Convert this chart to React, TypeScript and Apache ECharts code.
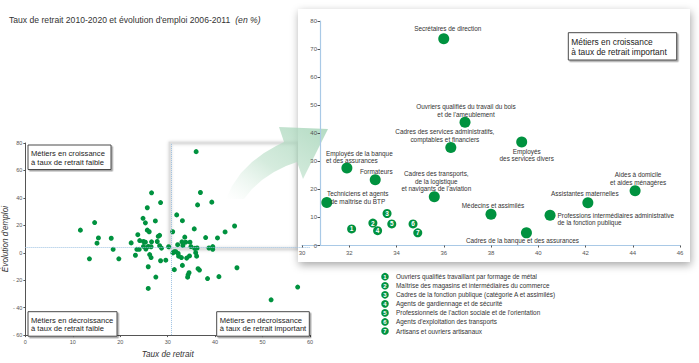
import React, { useEffect, useRef } from 'react';
import * as echarts from 'echarts';

// ---------- DATA ----------
const TITLE_MAIN = "Taux de retrait 2010-2020 et évolution d'emploi 2006-2011";
const TITLE_UNIT = '(en %)';

const X_NAME = 'Taux de retrait';
const Y_NAME = "Évolution d'emploi";

const AVG_RETRAIT = 30.7;
const AVG_EVOLUTION = 3.9;

// Named occupations (shown in the zoomed panel)
const namedLabels = [
  'Secrétaires de direction',
  "Ouvriers qualifiés du travail du bois\net de l'ameublement",
  'Cadres des services administratifs,\ncomptables et financiers',
  'Employés\ndes services divers',
  'Employés de la banque\net des assurances',
  'Formateurs',
  'Techniciens et agents\nde maîtrise du BTP',
  "Cadres des transports,\nde la logistique\net navigants de l'aviation",
  'Médecins et assimilés',
  'Cadres de la banque et des assurances',
  'Professions intermédiaires administrative\nde la fonction publique',
  'Assistantes maternelles',
  'Aides à domicile\net aides ménagères',
];
const namedRetrait = [36.0, 36.9, 36.3, 39.3, 31.9, 33.1, 31.05, 35.6, 38.0, 39.5, 40.5, 42.1, 44.1];
const namedEvolution = [73.7, 43.9, 34.9, 36.9, 27.6, 23.4, 15.3, 17.4, 11.1, 4.5, 10.8, 15.2, 19.5];

// Numbered occupations (legend)
const numberedLabels = [
  'Ouvriers qualifiés travaillant par formage de métal',
  'Maîtrise des magasins et intermédiaires du commerce',
  'Cadres de la fonction publique (catégorie A et assimilés)',
  'Agents de gardiennage et de sécurité',
  "Professionnels de l'action sociale et de l'orientation",
  "Agents d'exploitation des transports",
  'Artisans et ouvriers artisanaux',
];
const numberedRetrait = [32.1, 33.0, 33.6, 33.2, 33.8, 34.7, 34.9];
const numberedEvolution = [5.9, 8.0, 11.4, 5.3, 7.7, 7.7, 4.5];

// Other occupations (left chart only)
const otherRetrait = [
  11.6, 14.6, 13.5, 15.4, 15.1, 18.1, 18.5, 19.7, 22.3, 23.2, 23.7, 23.5, 24.0, 24.1, 24.8, 24.9,
  24.9, 25.3, 25.3, 25.4, 25.7, 25.7, 26.1, 25.9, 25.9, 25.9, 26.2, 26.5, 26.6, 26.6, 26.5, 27.4,
  27.5, 27.8, 28.0, 28.3, 28.5, 28.3, 28.7, 28.5, 29.6, 30.2, 31.1, 31.4, 31.7, 32.2, 31.4, 32.3,
  32.9, 33.1, 34.0, 34.2, 34.3, 34.6, 34.5, 35.7, 35.9, 36.1, 36.2, 36.4, 36.7, 38.4, 38.7, 39.5,
  40.8, 44.6, 51.8, 57.4,
];
const otherEvolution = [
  16.5, 22.0, -4.4, 10.8, 7.0, 10.6, 2.5, -4.4, 7.2, -1.8, 13.2, 2.5, 2.5, 8.9, 25.1, 8.2,
  4.6, 7.7, 21.8, 2.7, 32.8, 16.5, 15.3, 4.6, -10.2, -26.0, -1.3, -3.5, 43.7, 8.0, 4.4, 23.2,
  -17.7, 8.2, 12.0, 12.7, 36.6, 5.1, 3.4, -5.8, -5.4, 4.4, -0.1, 0.8, 0.8, -0.5, -12.3, -2.5,
  -3.5, -9.2, -3.9, -17.8, -16.1, -2.3, -14.5, 3.2, 0.1, -2.5, 3.5, -11.6, -12.6, -18.8, 3.5, 2.5,
  -17.4, -10.9, -34.3, -25.0,
];

const quadrantLabels = [
  ['Métiers en croissance', 'à taux de retrait faible'],
  ['Métiers en décroissance', 'à taux de retrait faible'],
  ['Métiers en décroissance', 'à taux de retrait important'],
  ['Métiers en croissance', 'à taux de retrait important'],
];

// ---------- LAYOUT / STYLE ----------
const GREEN = '#00923f';
const FONT = "'Liberation Sans Narrow', 'Liberation Sans', Arial, sans-serif";
const FONT_REG = "'Liberation Sans', Arial, sans-serif";

// label offsets (px) relative to each named point, and alignment
const namedLabelLayout: { off: [number, number]; align?: string }[] = [
  { off: [4, -10] },
  { off: [1, -12] },
  { off: [-6, -12] },
  { off: [5, 13] },
  { off: [-21, -11], align: 'left' },
  { off: [1, -8.5] },
  { off: [31, -5] },
  { off: [2, -15.5] },
  { off: [2, -8.5] },
  { off: [-4, 7.5] },
  { off: [7.5, 4], align: 'left' },
  { off: [-3, -9] },
  { off: [3, -12] },
];

const quadrantBoxes = [
  { x: 28, y: 145, w: 83, h: 24.5, fs: 7.6 },
  { x: 28, y: 311.7, w: 89, h: 24.5, fs: 7.6 },
  { x: 216.7, y: 311.7, w: 92.6, h: 24.5, fs: 7.6 },
  { x: 568.3, y: 32.7, w: 108.4, h: 27.3, fs: 8.4 },
];

const arrowPoints: [number, number][] = [
  [226, 199], [232, 186], [241, 173], [252, 162], [264, 153], [276, 146], [284, 142],
  [279, 127], [328, 129], [303, 179],
  [297, 162], [286, 166], [274, 172], [262, 180], [252, 189], [244, 199],
];

export default function App() {
  const ref = useRef<HTMLDivElement>(null);

  useEffect(() => {
    if (!ref.current) return;
    const chart = echarts.init(ref.current, undefined, { renderer: 'svg' });

    const leftData: number[][] = [];
    namedRetrait.forEach((x, i) => leftData.push([x, namedEvolution[i]]));
    numberedRetrait.forEach((x, i) => leftData.push([x, numberedEvolution[i]]));
    otherRetrait.forEach((x, i) => leftData.push([x, otherEvolution[i]]));

    const namedData = namedLabels.map((n, i) => ({
      name: n,
      value: [namedRetrait[i], namedEvolution[i]],
      label: {
        offset: namedLabelLayout[i].off,
        align: namedLabelLayout[i].align || 'center',
      },
    }));

    const numberedData = numberedLabels.map((n, i) => ({
      name: String(i + 1),
      value: [numberedRetrait[i], numberedEvolution[i]],
    }));

    const graphics: any[] = [];

    // zoom frame in the left chart
    graphics.push({
      type: 'rect',
      z: 1,
      shape: { x: 170, y: 143, width: 128, height: 106 },
      style: { fill: 'none', stroke: '#dedede', lineWidth: 3, shadowBlur: 3, shadowColor: 'rgba(0,0,0,0.15)' },
    });

    // quadrant boxes
    quadrantBoxes.forEach((b, i) => {
      graphics.push({
        type: 'rect',
        z: i === 3 ? 9 : 3,
        shape: { x: b.x, y: b.y, width: b.w, height: b.h },
        style: {
          fill: '#fff', stroke: '#4a4a4a', lineWidth: 1,
          shadowColor: 'rgba(0,0,0,0.35)', shadowOffsetX: 1.5, shadowOffsetY: 1.5, shadowBlur: 1,
        },
      });
      graphics.push({
        type: 'text',
        z: i === 3 ? 9 : 3,
        x: b.x + 3,
        y: b.y + b.h / 2 + 0.5,
        style: {
          text: quadrantLabels[i].join('\n'),
          fontSize: b.fs, fontFamily: FONT, fill: '#222',
          lineHeight: b.fs + 1.3, align: 'left', verticalAlign: 'middle',
        },
      });
    });

    // inset panel
    graphics.push({
      type: 'rect',
      z: 5,
      shape: { x: 298, y: 9, width: 392, height: 253 },
      style: { fill: '#fff', shadowBlur: 9, shadowColor: 'rgba(0,0,0,0.35)', shadowOffsetX: 1, shadowOffsetY: 3 },
    });

    // arrow
    graphics.push({
      type: 'polygon',
      z: 6,
      shape: { points: arrowPoints },
      style: {
        fill: new echarts.graphic.LinearGradient(0, 1, 1, 0, [
          { offset: 0, color: 'rgba(215,236,223,0)' },
          { offset: 0.45, color: 'rgba(185,222,199,0.6)' },
          { offset: 1, color: 'rgba(160,210,180,0.8)' },
        ]),
      },
    });

    // legend of numbered points
    numberedLabels.forEach((t, i) => {
      const cy = 276.7 + i * 9.05;
      graphics.push({
        type: 'circle', z: 9,
        shape: { cx: 385, cy, r: 3.8 },
        style: { fill: GREEN },
      });
      graphics.push({
        type: 'text', z: 10, x: 385, y: cy + 0.3,
        style: { text: String(i + 1), fontSize: 6, fontWeight: 'bold', fontFamily: FONT_REG, fill: '#fff', align: 'center', verticalAlign: 'middle' },
      });
      graphics.push({
        type: 'text', z: 9, x: 396, y: cy,
        style: { text: t, fontSize: 6.4, fontFamily: FONT, fill: '#333', align: 'left', verticalAlign: 'middle' },
      });
    });

    const smallAxisLabel = { fontSize: 5.5, color: '#555', fontFamily: FONT };

    chart.setOption({
      animation: false,
      backgroundColor: '#fff',
      title: {
        text: `{a|${TITLE_MAIN}} {b|${TITLE_UNIT}}`,
        left: 4,
        top: 6,
        textStyle: {
          fontWeight: 'normal',
          rich: {
            a: { fontSize: 8.6, fontFamily: FONT_REG, color: '#333', fontWeight: 'normal' },
            b: { fontSize: 8.6, fontFamily: FONT_REG, color: '#333', fontStyle: 'italic', fontWeight: 'normal' },
          },
        },
      },
      grid: [
        { left: 23, top: 143, width: 287, height: 195.5 },
        { left: 302, top: 21, width: 378, height: 224.5 },
      ],
      xAxis: [
        {
          gridIndex: 0, type: 'value', min: 0, max: 60, interval: 10,
          splitLine: { show: false },
          axisLine: { onZero: false, lineStyle: { color: '#555', width: 1 } },
          axisTick: { length: 2, lineStyle: { color: '#555' } },
          axisLabel: { ...smallAxisLabel, margin: 4 },
          name: X_NAME, nameLocation: 'middle', nameGap: 10.5,
          nameTextStyle: { fontSize: 8.2, fontStyle: 'italic', fontFamily: FONT, color: '#333' },
        },
        {
          gridIndex: 1, type: 'value', min: 30, max: 46, interval: 2, z: 7,
          splitLine: { show: false },
          axisLine: { onZero: false, lineStyle: { color: '#a9c9e6', width: 1.2 } },
          axisTick: { length: 2, lineStyle: { color: '#555' } },
          axisLabel: { ...smallAxisLabel, fontSize: 6, margin: 4 },
        },
      ],
      yAxis: [
        {
          gridIndex: 0, type: 'value', min: -60, max: 80, interval: 20,
          splitLine: { show: false },
          axisLine: { onZero: false, lineStyle: { color: '#555', width: 1 } },
          axisTick: { length: 2, lineStyle: { color: '#555' } },
          axisLabel: {
            ...smallAxisLabel, margin: 3,
            formatter: (v: number) => (v < 0 ? '- ' + Math.abs(v) : String(v)),
          },
          name: Y_NAME, nameLocation: 'middle', nameGap: 11.5,
          nameTextStyle: { fontSize: 8.2, fontStyle: 'italic', fontFamily: FONT, color: '#333' },
        },
        {
          gridIndex: 1, type: 'value', min: 0, max: 80, interval: 10, offset: -18, z: 7,
          splitLine: { show: false },
          axisLine: { onZero: false, lineStyle: { color: '#a9c9e6', width: 1.2 } },
          axisTick: { length: 2.5, lineStyle: { color: '#555' } },
          axisLabel: { ...smallAxisLabel, fontSize: 6, margin: 3 },
        },
      ],
      graphic: { elements: graphics },
      series: [
        {
          type: 'scatter', xAxisIndex: 0, yAxisIndex: 0, z: 2,
          symbolSize: 5, itemStyle: { color: GREEN, opacity: 1 },
          data: leftData,
          markLine: {
            silent: true, symbol: 'none', label: { show: false },
            lineStyle: { type: 'dotted', color: '#9cc0e2', width: 1 },
            data: [{ xAxis: AVG_RETRAIT }, { yAxis: AVG_EVOLUTION }],
          },
        },
        {
          type: 'scatter', xAxisIndex: 1, yAxisIndex: 1, z: 8,
          symbolSize: 11, itemStyle: { color: GREEN, opacity: 1 },
          label: {
            show: true, position: 'inside', formatter: (p: any) => p.name,
            color: '#333', fontSize: 6.4, lineHeight: 7.6, fontFamily: FONT,
          },
          data: namedData,
        },
        {
          type: 'scatter', xAxisIndex: 1, yAxisIndex: 1, z: 8,
          symbolSize: 9, itemStyle: { color: GREEN, opacity: 1 },
          label: {
            show: true, position: 'inside', formatter: (p: any) => p.name,
            color: '#fff', fontSize: 6.5, fontWeight: 'bold', fontFamily: FONT_REG,
          },
          data: numberedData,
        },
      ],
    });

    return () => chart.dispose();
  }, []);

  return <div ref={ref} style={{ width: 699, height: 363, position: 'absolute', left: 0, top: 0 }} />;
}
